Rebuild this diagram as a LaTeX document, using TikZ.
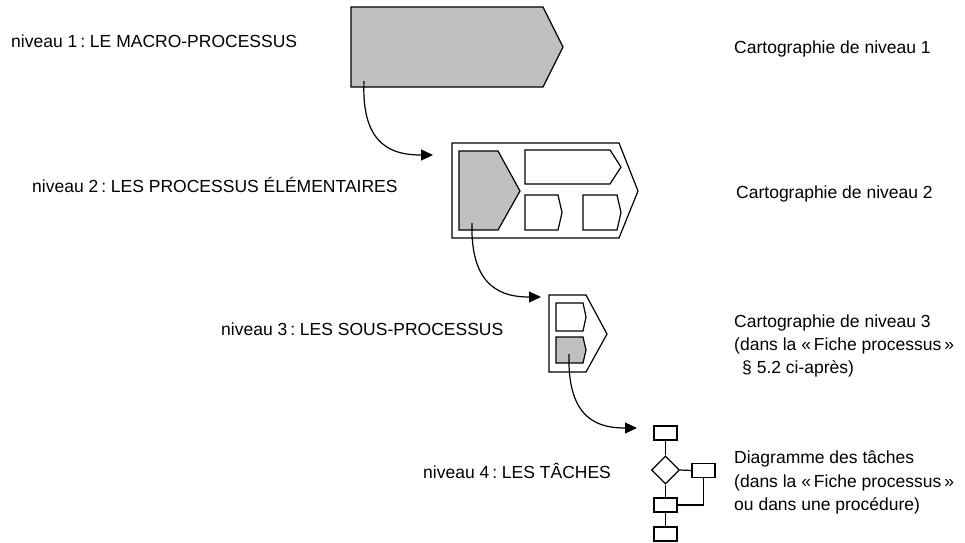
\documentclass[tikz,border=0pt]{standalone}
\usepackage{fontspec}
\setmainfont{Liberation Sans}
\frenchspacing
\usetikzlibrary{arrows.meta,shapes.geometric}
\definecolor{procgray}{RGB}{192,192,194}
\tikzset{
  lbl/.style={anchor=base west,inner sep=0pt,font=\fontsize{17.5}{21}\selectfont},
  proc/.style={draw=black,line width=1.2pt,line join=miter,fill=white},
  procfill/.style={proc,fill=procgray},
  link/.style={line width=1.2pt,-{Triangle[length=12pt,width=11pt]}},
  task/.style={draw=black,line width=1.2pt,fill=white,rectangle,inner sep=0pt,minimum width=23pt,minimum height=14pt},
  decide/.style={draw=black,line width=1.2pt,fill=white,diamond,aspect=1,inner sep=0pt,minimum width=28pt,minimum height=28pt},
  flow/.style={line width=1.2pt}
}
\begin{document}
\begin{tikzpicture}[x=1pt,y=-1pt]
\useasboundingbox (0,0) rectangle (965,542);

% level 1: macro-process
\draw[procfill] (351,7) -- (543,7) -- (563,47) -- (543,87) -- (351,87) -- cycle;
\coordinate (s1) at (364,81);

% level 2: elementary processes
\draw[proc] (452,143) -- (619,143) -- (638,191) -- (619,238) -- (452,238) -- cycle;
\draw[procfill] (459,151) -- (498,151) -- (520,191) -- (498,230) -- (459,230) -- cycle;
\draw[proc] (525,150) -- (610,150) -- (621,167) -- (610,184) -- (525,184) -- cycle;
\draw[proc] (525,195) -- (558,195) -- (562,212.5) -- (558,230) -- (525,230) -- cycle;
\draw[proc] (583,195) -- (617,195) -- (621,212.5) -- (617,230) -- (583,230) -- cycle;
\coordinate (e1) at (433,155);
\coordinate (s2) at (472,223);

% level 3: sub-processes
\draw[proc] (549,295) -- (586,295) -- (607,334) -- (586,372) -- (549,372) -- cycle;
\draw[proc] (556,303) -- (583,303) -- (586,317) -- (583,331) -- (556,331) -- cycle;
\draw[procfill] (556,337) -- (583,337) -- (586,350) -- (583,363) -- (556,363) -- cycle;
\coordinate (e2) at (541,297);
\coordinate (s3) at (569,354);

% level 4: task diagram
\node[task] (f1) at (665.5,433) {};
\node[decide] (dia) at (665.5,470) {};
\node[task] (f2) at (703.5,470.5) {};
\node[task] (f3) at (665.5,505) {};
\node[task] (f4) at (665.5,534) {};
\draw[flow] (f1.south) -- (dia.north);
\draw[flow] (dia.south) -- (f3.north);
\draw[flow] (f3.south) -- (f4.north);
\draw[flow] (dia.east) -- (f2.west);
\draw[flow] (f2.south) |- (f3.east);
\coordinate (e3) at (637,428);

% connectors between levels
\draw[link] (s1) .. controls (361,148) and (395,155) .. (e1);
\draw[link] (s2) .. controls (470,290) and (505,297) .. (e2);
\draw[link] (s3) .. controls (567,421) and (600,428) .. (e3);

% level titles
\node[lbl] (n1) at (11,47) {niveau 1\,: LE MACRO-PROCESSUS};
\node[lbl] (n2) at (32,192) {niveau 2\,: LES PROCESSUS ÉLÉMENTAIRES};
\node[lbl] (n3) at (221,335) {niveau 3\,: LES SOUS-PROCESSUS};
\node[lbl] (n4) at (423,478) {niveau 4\,: LES TÂCHES};

% descriptions
\node[lbl] (c1) at (734,53) {Cartographie de niveau 1};
\node[lbl] (c2) at (736,198) {Cartographie de niveau 2};
\node[lbl] (c3a) at (734,327) {Cartographie de niveau 3};
\node[lbl] (c3b) at (734,350) {(dans la «\,Fiche processus\,»};
\node[lbl] (c3c) at (742,373) {§ 5.2 ci-après)};
\node[lbl] (c4a) at (734,463) {Diagramme des tâches};
\node[lbl] (c4b) at (734,487) {(dans la «\,Fiche processus\,»};
\node[lbl] (c4c) at (734,510) {ou dans une procédure)};
\end{tikzpicture}
\end{document}
